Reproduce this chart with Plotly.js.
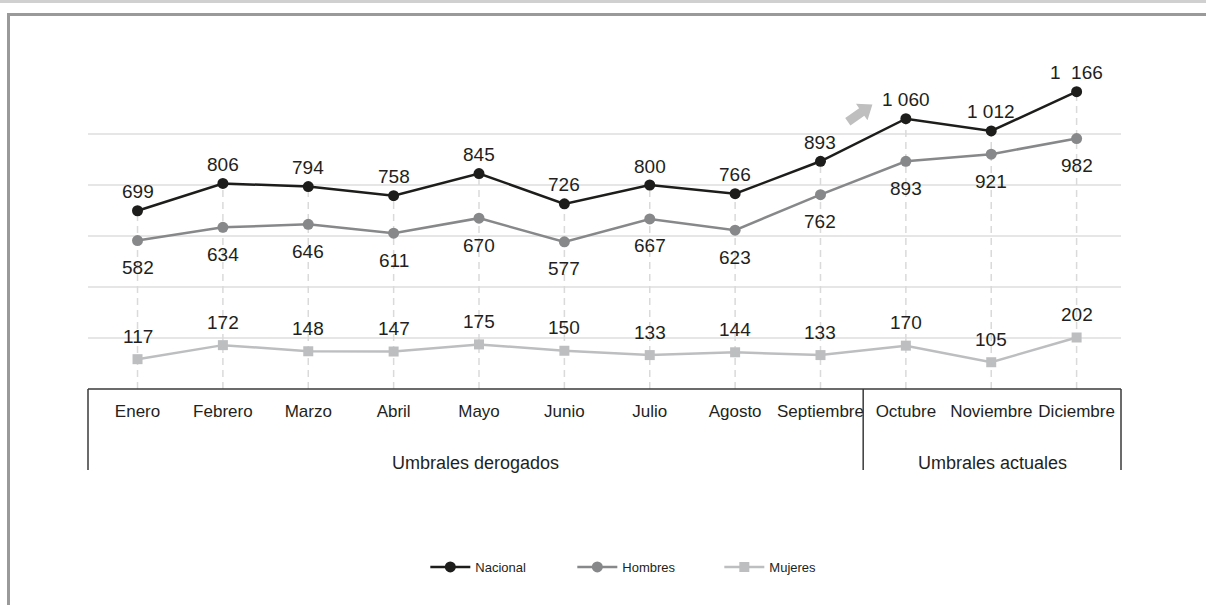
<!DOCTYPE html>
<html>
<head>
<meta charset="utf-8">
<script src="https://cdn.plot.ly/plotly-3.0.1.min.js"></script>
<style>
  html, body { margin: 0; padding: 0; background: #fff; }
  #wrap { position: relative; width: 1206px; height: 605px; overflow: hidden; }
  #topline { position: absolute; left: 0; top: 0; width: 1206px; height: 3px; background: #d0d0d0; }
  #frame { position: absolute; left: 7px; top: 13px; width: 1300px; height: 700px;
           border-left: 3px solid #9a9a9a; border-top: 3px solid #9a9a9a; pointer-events: none; }
  #chart { position: absolute; left: 0; top: 0; width: 1206px; height: 605px; }
</style>
</head>
<body>
<div id="wrap">
  <div id="topline"></div>
  <div id="frame"></div>
  <div id="chart"></div>
</div>
<script>
const months = ["Enero","Febrero","Marzo","Abril","Mayo","Junio","Julio","Agosto","Septiembre","Octubre","Noviembre","Diciembre"];
const nacional = [699, 806, 794, 758, 845, 726, 800, 766, 893, 1060, 1012, 1166];
const hombres  = [582, 634, 646, 611, 670, 577, 667, 623, 762, 893, 921, 982];
const mujeres  = [117, 172, 148, 147, 175, 150, 133, 144, 133, 170, 105, 202];
const nacionalLabels = ["699","806","794","758","845","726","800","766","893","1 060","1 012","1  166"];
const groups = ["Umbrales derogados", "Umbrales actuales"];

const FONT = "'Liberation Sans', Arial, sans-serif";
const idx = months.map((m, i) => i);

const dropX = [], dropY = [];
idx.forEach(i => { dropX.push(i, i, null); dropY.push(0, nacional[i], null); });

const traces = [
  { x: dropX, y: dropY, mode: 'lines', line: {color: '#dadada', width: 1.5, dash: '7px,5px'},
    showlegend: false, hoverinfo: 'skip', cliponaxis: false },
  { name: 'Nacional', x: idx, y: nacional, mode: 'lines+markers',
    line: {color: '#1d1d1b', width: 2.5}, marker: {symbol: 'circle', size: 11, color: '#1d1d1b'},
    cliponaxis: false },
  { name: 'Hombres', x: idx, y: hombres, mode: 'lines+markers',
    line: {color: '#87888a', width: 2.5}, marker: {symbol: 'circle', size: 11, color: '#87888a'},
    cliponaxis: false },
  { name: 'Mujeres', x: idx, y: mujeres, mode: 'lines+markers',
    line: {color: '#bdbec0', width: 2.5}, marker: {symbol: 'square', size: 10, color: '#bdbec0'},
    cliponaxis: false }
];

const plotTop = 82, axisY = 389;
const plotH = axisY - plotTop;
const yTop = 1200 * plotH / 306;
const boxBottom = -(470 - axisY) / plotH;
const xMin = -0.58, xMax = 11.52;

function labelAnns(values, texts, shift) {
  return values.map((v, i) => ({
    xref: 'x', yref: 'y', x: i, y: v, text: texts[i], showarrow: false,
    yanchor: 'middle', yshift: shift,
    font: {family: FONT, size: 19, color: '#231f20'}
  }));
}

const annotations = [].concat(
  labelAnns(nacional, nacionalLabels, 19),
  labelAnns(hombres, hombres.map(String), -27),
  labelAnns(mujeres, mujeres.map(String), 23),
  [
    {xref: 'x', yref: 'paper', x: (xMin + 8.5) / 2, y: -(463 - axisY) / plotH, text: groups[0],
     showarrow: false, yanchor: 'middle', font: {family: FONT, size: 18, color: '#231f20'}},
    {xref: 'x', yref: 'paper', x: (8.5 + xMax) / 2, y: -(463 - axisY) / plotH, text: groups[1],
     showarrow: false, yanchor: 'middle', font: {family: FONT, size: 18, color: '#231f20'}}
  ]
);

// decorative block arrow (pixel-sized path anchored near the October rise)
const arrowPath = 'M2.6,-3.7 L16.5,6.1 L19.7,1.6 L24.6,17.2 L8.2,18.0 L11.3,13.5 L-2.6,3.7 Z';

const layout = {
  width: 1206, height: 605,
  margin: {l: 88, r: 85, t: plotTop, b: 605 - axisY},
  paper_bgcolor: 'rgba(0,0,0,0)', plot_bgcolor: 'rgba(0,0,0,0)',
  font: {family: FONT, color: '#231f20'},
  showlegend: true,
  legend: {orientation: 'h', x: 0.54, xanchor: 'center', y: (axisY - 567) / plotH, yanchor: 'middle',
           font: {family: FONT, size: 13, color: '#231f20'},
           entrywidth: 92, itemwidth: 40},
  xaxis: {
    range: [xMin, xMax], tickmode: 'array', tickvals: idx, ticktext: months, tickangle: 0,
    showgrid: false, zeroline: false, showline: false, ticks: '',
    tickfont: {family: FONT, size: 17, color: '#231f20'}, ticklabelstandoff: 10, fixedrange: true
  },
  yaxis: {
    range: [0, yTop], tickmode: 'array', tickvals: [200, 400, 600, 800, 1000, 1200], showticklabels: false, ticks: '',
    showgrid: true, gridcolor: '#e6e6e6', gridwidth: 1.5, zeroline: false, showline: false, fixedrange: true
  },
  shapes: [
    {type: 'path', xref: 'x', yref: 'y', xsizemode: 'pixel', ysizemode: 'pixel',
     xanchor: 8.32, yanchor: 1048, path: arrowPath, fillcolor: '#bfbfbf', line: {width: 0}},
    {type: 'line', xref: 'paper', yref: 'paper', x0: 0, x1: 1, y0: 0, y1: 0, line: {color: '#3a3a3a', width: 1.5}},
    {type: 'line', xref: 'paper', yref: 'paper', x0: 0, x1: 0, y0: 0, y1: boxBottom, line: {color: '#3a3a3a', width: 1.5}},
    {type: 'line', xref: 'x', yref: 'paper', x0: 8.5, x1: 8.5, y0: 0, y1: boxBottom, line: {color: '#3a3a3a', width: 1.5}},
    {type: 'line', xref: 'paper', yref: 'paper', x0: 1, x1: 1, y0: 0, y1: boxBottom, line: {color: '#3a3a3a', width: 1.5}}
  ],
  annotations: annotations
};

Plotly.newPlot('chart', traces, layout, {displayModeBar: false, staticPlot: true});
</script>
</body>
</html>
